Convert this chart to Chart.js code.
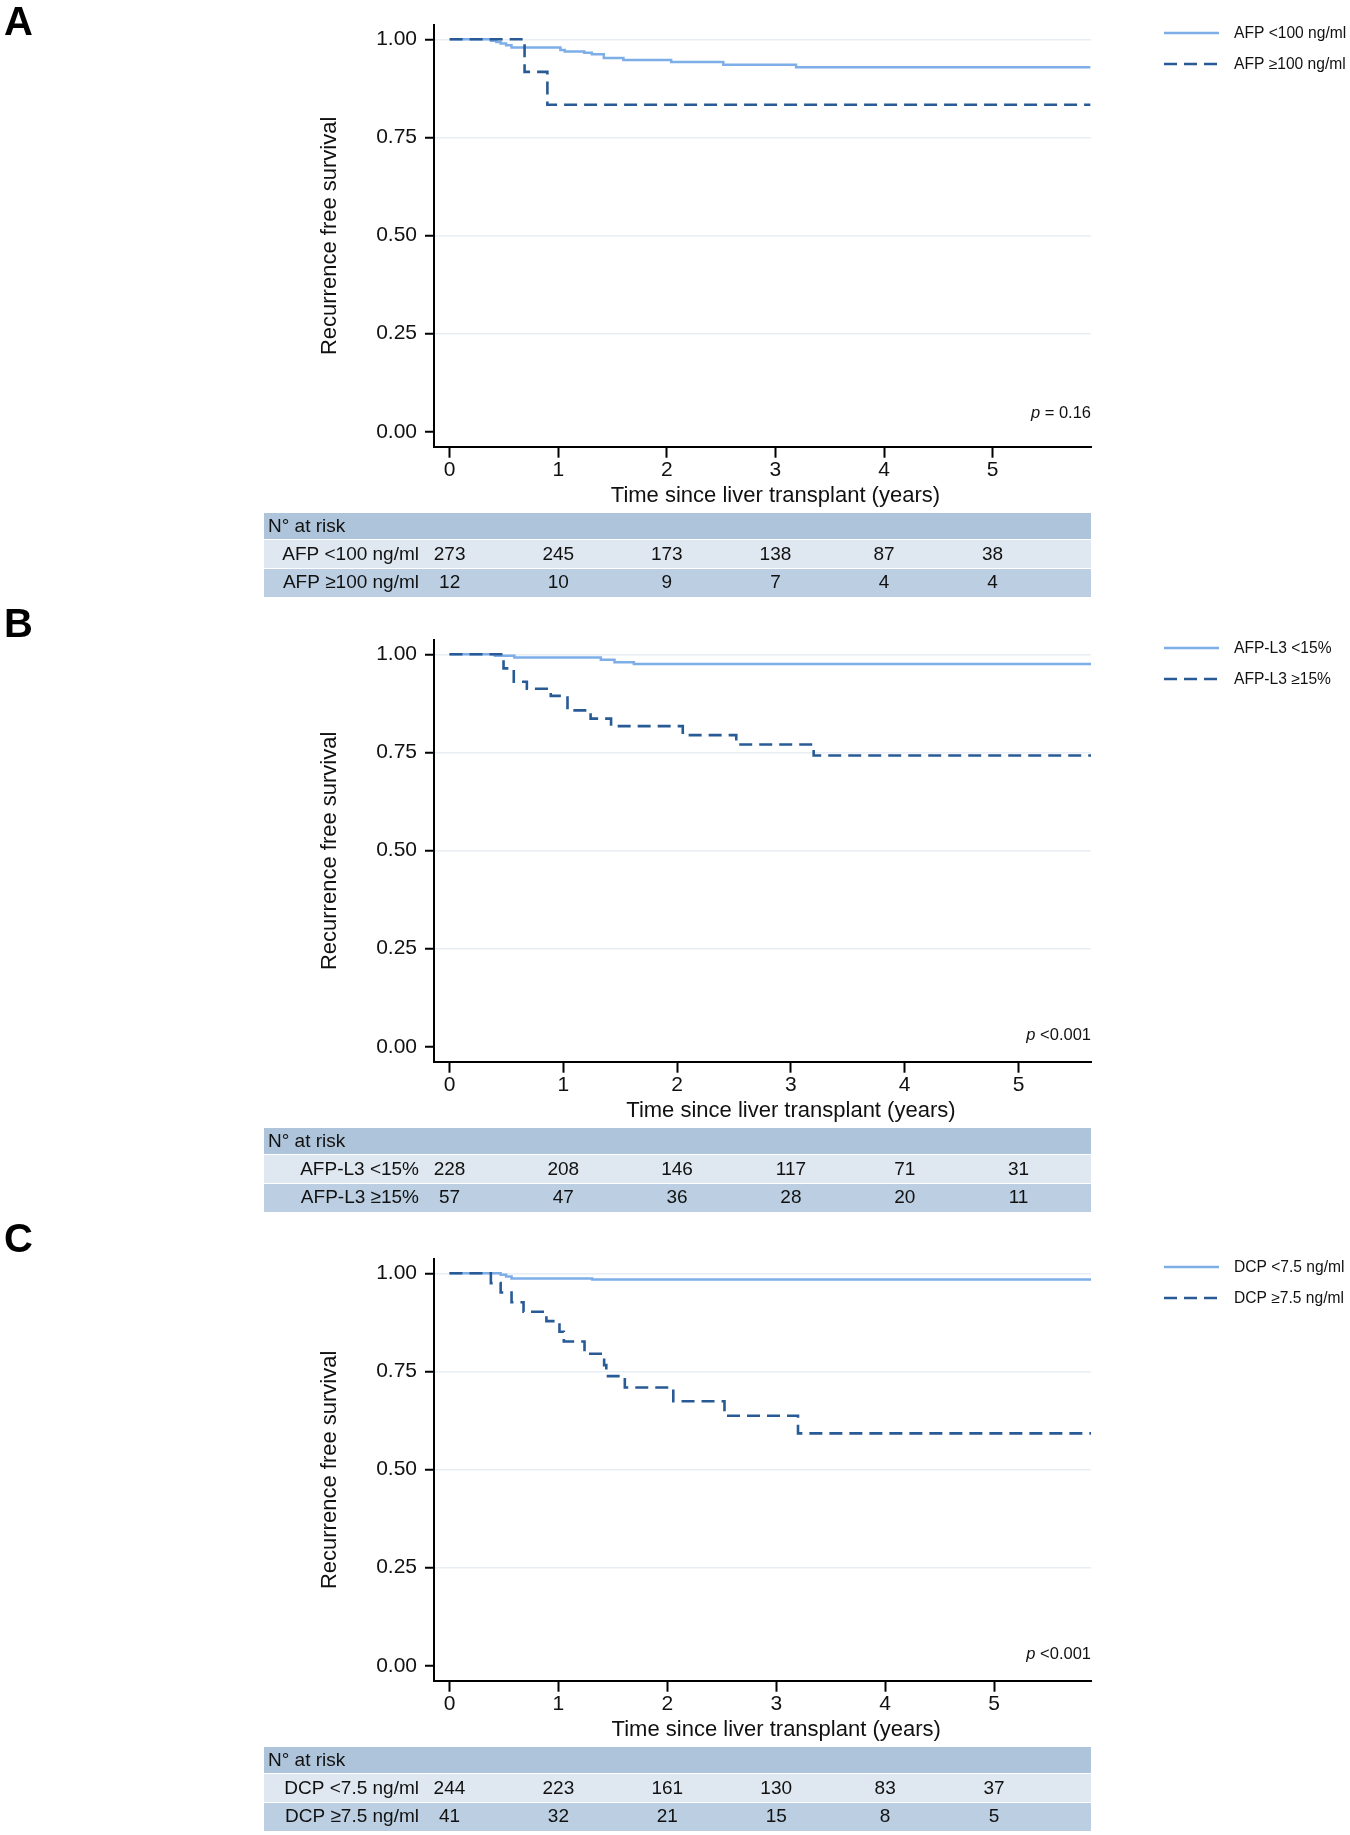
<!DOCTYPE html>
<html>
<head>
<meta charset="utf-8">
<title>Recurrence free survival by AFP, AFP-L3 and DCP</title>
<script src="https://cdn.jsdelivr.net/npm/chart.js@4.4.1/dist/chart.umd.min.js"></script>
<style>
  html, body { margin: 0; padding: 0; background: #fff; }
  body { width: 1350px; height: 1835px; position: relative; overflow: hidden; font-family: "Liberation Sans", Arial, sans-serif; }
  canvas { position: absolute; left: 0; }
  .letter { position: absolute; left: 4px; z-index: 2; font-weight: bold; font-size: 40px; line-height: 40px; color: #000; }
</style>
</head>
<body>
<canvas id="chartA" width="1350" height="601" style="top:0"></canvas>
<canvas id="chartB" width="1350" height="601" style="top:615px"></canvas>
<canvas id="chartC" width="1350" height="601" style="top:1234px"></canvas>
<div class="letter" style="top:1px">A</div>
<div class="letter" style="top:603px">B</div>
<div class="letter" style="top:1218px">C</div>
<script>
// shared axis values
const riskYears = [0, 1, 2, 3, 4, 5];
const yTickValues = [0, 0.25, 0.5, 0.75, 1];

// Panel A - AFP
const afpLabels = ['AFP <100 ng/ml', 'AFP \u2265100 ng/ml'];
const afpLowTime = [0, 0.38, 0.43, 0.47, 0.52, 0.57, 1.02, 1.06, 1.24, 1.31, 1.42, 1.60, 2.04, 2.52, 3.19, 5.9];
const afpLowSurv = [1, 0.996, 0.993, 0.989, 0.985, 0.979, 0.973, 0.969, 0.966, 0.962, 0.952, 0.947, 0.942, 0.935, 0.929, 0.929];
const afpHighTime = [0, 0.69, 0.90, 5.9];
const afpHighSurv = [1, 0.917, 0.833, 0.833];
const afpRiskLow = [273, 245, 173, 138, 87, 38];
const afpRiskHigh = [12, 10, 9, 7, 4, 4];

// Panel B - AFP-L3
const l3Labels = ['AFP-L3 <15%', 'AFP-L3 \u226515%'];
const l3LowTime = [0, 0.40, 0.57, 1.33, 1.45, 1.62, 5.64];
const l3LowSurv = [1, 0.9965, 0.9915, 0.986, 0.980, 0.975, 0.975];
const l3HighTime = [0, 0.475, 0.565, 0.68, 0.89, 1.037, 1.24, 1.42, 2.05, 2.52, 3.20, 5.64];
const l3HighSurv = [1, 0.964, 0.930, 0.912, 0.894, 0.857, 0.836, 0.817, 0.794, 0.770, 0.742, 0.742];
const l3RiskLow = [228, 208, 146, 117, 71, 31];
const l3RiskHigh = [57, 47, 36, 28, 20, 11];

// Panel C - DCP
const dcpLabels = ['DCP <7.5 ng/ml', 'DCP \u22657.5 ng/ml'];
const dcpLowTime = [0, 0.47, 0.52, 0.57, 1.31, 5.89];
const dcpLowSurv = [1, 0.9965, 0.992, 0.987, 0.984, 0.984];
const dcpHighTime = [0, 0.38, 0.47, 0.57, 0.68, 0.89, 1.01, 1.05, 1.24, 1.42, 1.44, 1.61, 2.055, 2.525, 3.20, 5.89];
const dcpHighSurv = [1, 0.975, 0.951, 0.926, 0.902, 0.878, 0.851, 0.826, 0.795, 0.766, 0.738, 0.709, 0.674, 0.637, 0.592, 0.592];
const dcpRiskLow = [244, 223, 161, 130, 83, 37];
const dcpRiskHigh = [41, 32, 21, 15, 8, 5];

const fontFamily = '"Liberation Sans", Arial, sans-serif';
const textColor = '#111';
const lightBlue = '#7eaee8';
const darkBlue = '#285a95';
const gridColor = '#e8eef3';
const dashPattern = [13, 7];

Chart.defaults.font.family = fontFamily;
Chart.defaults.color = textColor;

// legend, p value, x title and the number-at-risk table
const kmExtras = {
    id: 'kmExtras',
    afterDraw(chart, args, opts) {
        const ctx = chart.ctx;
        const xs = chart.scales.x;
        const area = chart.chartArea;
        ctx.save();

        // x axis title, centred on the middle of the 0-6 year range
        ctx.fillStyle = textColor;
        ctx.font = '22px ' + fontFamily;
        ctx.textAlign = 'center';
        ctx.textBaseline = 'middle';
        ctx.fillText('Time since liver transplant (years)', xs.getPixelForValue(3), 496);

        // legend
        const legendY = [33, 64];
        chart.data.datasets.forEach((ds, i) => {
            ctx.beginPath();
            ctx.strokeStyle = ds.borderColor;
            ctx.lineWidth = ds.borderWidth;
            ctx.setLineDash(ds.borderDash || []);
            ctx.moveTo(1164, legendY[i]);
            ctx.lineTo(1219, legendY[i]);
            ctx.stroke();
            ctx.setLineDash([]);
            ctx.fillStyle = textColor;
            ctx.font = '15.6px ' + fontFamily;
            ctx.textAlign = 'left';
            ctx.fillText(ds.label, 1234, legendY[i] + 1);
        });

        // p value
        ctx.font = '16.5px ' + fontFamily;
        ctx.textAlign = 'right';
        const restWidth = ctx.measureText(opts.pText).width;
        ctx.fillText(opts.pText, area.right, opts.pY);
        ctx.font = 'italic 16.5px ' + fontFamily;
        ctx.fillText('p', area.right - restWidth, opts.pY);

        // number at risk table
        const left = 264;
        const width = area.right - left;
        ctx.fillStyle = '#aec4da';
        ctx.fillRect(left, 513, width, 26);
        ctx.fillStyle = '#dfe7f0';
        ctx.fillRect(left, 540, width, 28);
        ctx.fillStyle = '#bccfe2';
        ctx.fillRect(left, 569, width, 28);

        ctx.fillStyle = textColor;
        ctx.font = '19px ' + fontFamily;
        ctx.textAlign = 'left';
        ctx.fillText('N\u00b0 at risk', 268, 527);

        const rowY = [554.5, 583];
        opts.risk.forEach((row, r) => {
            ctx.textAlign = 'right';
            ctx.fillText(chart.data.datasets[r].label, 419, rowY[r]);
            ctx.textAlign = 'center';
            row.forEach((n, i) => {
                ctx.fillText(String(n), xs.getPixelForValue(riskYears[i]), rowY[r]);
            });
        });
        ctx.restore();
    }
};

function curve(times, surv) {
    return times.map((t, i) => ({ x: t, y: surv[i] }));
}

function makePanel(id, p) {
    return new Chart(document.getElementById(id), {
        type: 'line',
        data: {
            datasets: [
                {
                    label: p.labels[0],
                    data: curve(p.lowTime, p.lowSurv),
                    borderColor: lightBlue,
                    borderWidth: 2.5,
                    stepped: true,
                    pointRadius: 0,
                    order: 1
                },
                {
                    label: p.labels[1],
                    data: curve(p.highTime, p.highSurv),
                    borderColor: darkBlue,
                    borderWidth: 2.6,
                    borderDash: dashPattern,
                    stepped: true,
                    pointRadius: 0,
                    order: 0
                }
            ]
        },
        options: {
            responsive: false,
            animation: false,
            devicePixelRatio: 1,
            layout: { padding: { left: 0, top: 25, right: 259, bottom: 114.3 } },
            plugins: {
                legend: { display: false },
                tooltip: { enabled: false },
                kmExtras: { pText: p.pText, pY: p.pY, risk: p.risk }
            },
            scales: {
                x: {
                    type: 'linear',
                    min: p.xMin,
                    max: p.xMax,
                    afterBuildTicks: s => { s.ticks = riskYears.map(v => ({ value: v })); },
                    afterFit: s => { s.height = 40; },
                    grid: { drawOnChartArea: false, drawTicks: true, tickLength: 11, tickColor: '#000', tickWidth: 2 },
                    border: { display: true, color: '#000', width: 2 },
                    ticks: { padding: 0, font: { size: 21 }, color: textColor, maxRotation: 0, autoSkip: false, callback: v => String(v) }
                },
                y: {
                    type: 'linear',
                    min: -0.0382,
                    max: 1.0364,
                    afterBuildTicks: s => { s.ticks = yTickValues.map(v => ({ value: v })); },
                    afterFit: s => { s.width = 434; },
                    grid: {
                        color: c => (c.tick && c.tick.value === 0) ? 'rgba(0,0,0,0)' : gridColor,
                        lineWidth: 1.5,
                        tickLength: 9,
                        tickColor: '#000',
                        tickWidth: 2
                    },
                    border: { display: true, color: '#000', width: 2 },
                    ticks: { padding: 8, font: { size: 21 }, color: textColor, callback: v => v.toFixed(2) },
                    title: {
                        display: true,
                        text: 'Recurrence free survival',
                        font: { size: 22 },
                        color: textColor,
                        padding: { top: 316.8, bottom: 0 }
                    }
                }
            }
        },
        plugins: [kmExtras]
    });
}

makePanel('chartA', {
    labels: afpLabels, lowTime: afpLowTime, lowSurv: afpLowSurv,
    highTime: afpHighTime, highSurv: afpHighSurv,
    risk: [afpRiskLow, afpRiskHigh],
    xMin: -0.144, xMax: 5.906, pText: ' = 0.16', pY: 413
});
makePanel('chartB', {
    labels: l3Labels, lowTime: l3LowTime, lowSurv: l3LowSurv,
    highTime: l3HighTime, highSurv: l3HighSurv,
    risk: [l3RiskLow, l3RiskHigh],
    xMin: -0.136, xMax: 5.637, pText: ' <0.001', pY: 420
});
makePanel('chartC', {
    labels: dcpLabels, lowTime: dcpLowTime, lowSurv: dcpLowSurv,
    highTime: dcpHighTime, highSurv: dcpHighSurv,
    risk: [dcpRiskLow, dcpRiskHigh],
    xMin: -0.142, xMax: 5.89, pText: ' <0.001', pY: 420
});
</script>
</body>
</html>
